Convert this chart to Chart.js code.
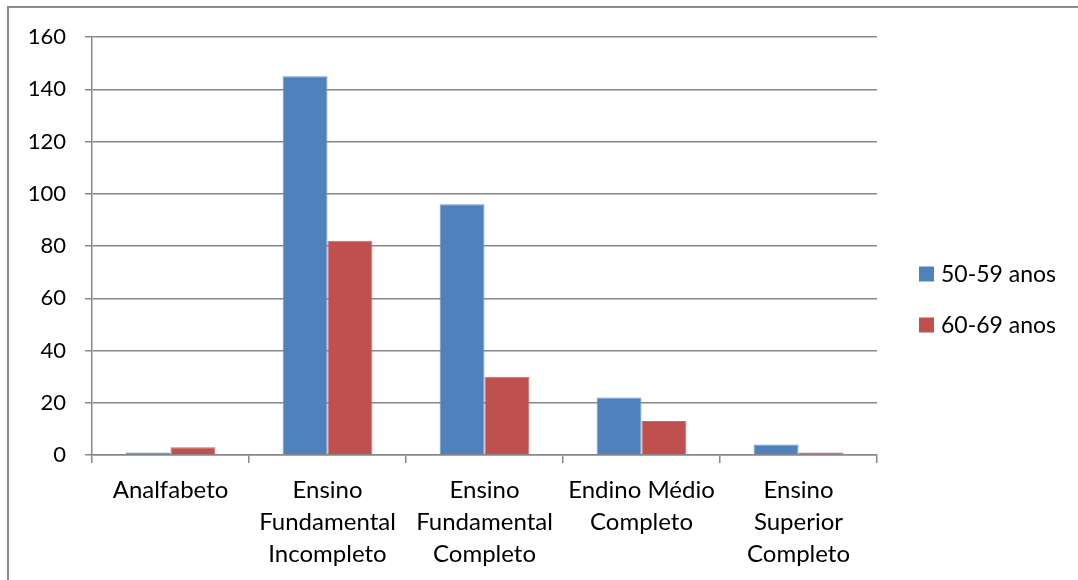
<!DOCTYPE html>
<html>
<head>
<meta charset="utf-8">
<script src="https://cdn.jsdelivr.net/npm/chart.js@4/dist/chart.umd.min.js"></script>
<style>
  html, body { margin: 0; padding: 0; background: #fff; overflow: hidden; }
  #wrap { position: relative; width: 1078px; height: 580px; overflow: hidden; }
  #frame { position: absolute; left: 7px; top: 6px; width: 1200px; height: 700px;
           border: 2px solid #8c8c8c; box-sizing: border-box; }
  canvas { position: absolute; left: 0; top: 0; }
</style>
</head>
<body>
<div id="wrap">
  <div id="frame"></div>
  <canvas id="c" width="1078" height="580"></canvas>
</div>
<script>
// Escolaridade por faixa etária
const categories = [
  ['Analfabeto'],
  ['Ensino', 'Fundamental', 'Incompleto'],
  ['Ensino', 'Fundamental', 'Completo'],
  ['Endino Médio', 'Completo'],
  ['Ensino', 'Superior', 'Completo']
];
const seriesNames = ['50-59 anos', '60-69 anos'];
const values5059 = [1, 145, 96, 22, 4];
const values6069 = [3, 82, 30, 13, 1];
const yTicks = [0, 20, 40, 60, 80, 100, 120, 140, 160];

const FONT = 'Lato, "Open Sans", sans-serif';
const GRID = '#888888';

// legend drawn at the right of the plot
const sideLegend = {
  id: 'sideLegend',
  afterDraw(chart) {
    const ctx = chart.ctx;
    const x0 = chart.chartArea.right + 42;
    const ys = [274, 325];
    ctx.save();
    ctx.font = '23px ' + FONT;
    ctx.textBaseline = 'middle';
    ctx.textAlign = 'left';
    chart.data.datasets.forEach((ds, i) => {
      ctx.fillStyle = ds.backgroundColor;
      ctx.fillRect(x0, ys[i] - 7.5, 15, 15);
      ctx.fillStyle = '#000';
      ctx.fillText(ds.label, x0 + 22, ys[i] + 1);
    });
    ctx.restore();
  }
};

new Chart(document.getElementById('c'), {
  type: 'bar',
  data: {
    labels: categories,
    datasets: [
      { label: seriesNames[0], data: values5059, backgroundColor: '#4F81BD',
        borderColor: '#6d97c9', borderWidth: 1 },
      { label: seriesNames[1], data: values6069, backgroundColor: '#C0504D',
        borderColor: '#cc6a67', borderWidth: 1 }
    ]
  },
  options: {
    responsive: false,
    animation: false,
    layout: { padding: { top: 37, right: 201, left: 0, bottom: 0 } },
    datasets: { bar: { categoryPercentage: 2 / 3.5, barPercentage: 1 } },
    plugins: { legend: { display: false }, tooltip: { enabled: false } },
    scales: {
      x: {
        afterFit(s) { s.height = 125; },
        grid: { display: true, drawOnChartArea: false, drawTicks: true, tickLength: 8,
                color: GRID, lineWidth: 1.5, offset: true },
        border: { display: true, color: GRID, width: 1.5 },
        ticks: { color: '#000', font: { family: FONT, size: 24, lineHeight: 32 / 24 },
                 padding: 11, maxRotation: 0, autoSkip: false }
      },
      y: {
        min: 0, max: 160,
        afterFit(s) { s.width = 92; },
        afterBuildTicks(s) { s.ticks = yTicks.map(v => ({ value: v })); },
        grid: { color: GRID, lineWidth: 1.5, tickLength: 7 },
        border: { display: true, color: GRID, width: 1.5 },
        ticks: { color: '#000', font: { family: FONT, size: 22 }, padding: 19 }
      }
    }
  },
  plugins: [sideLegend]
});
</script>
</body>
</html>
